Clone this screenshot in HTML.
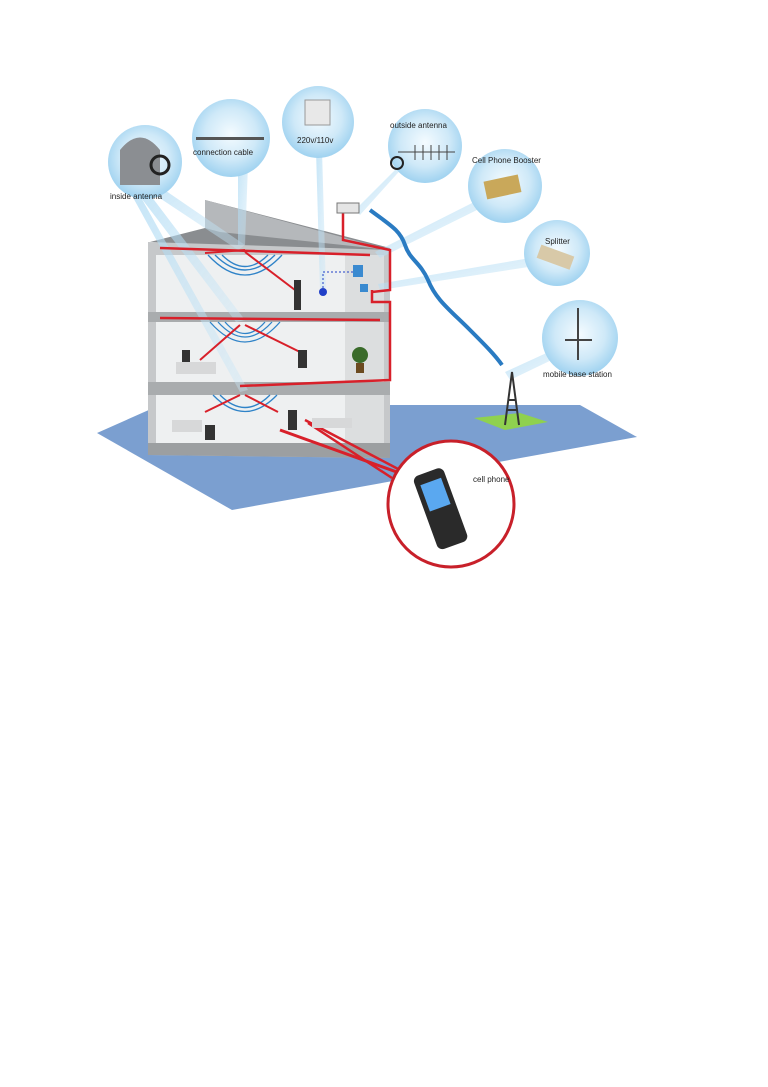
<!DOCTYPE html>
<html><head><meta charset="utf-8"><style>
body{margin:0;background:#fff;}
svg{display:block;font-family:"Liberation Sans",sans-serif;}
</style></head><body>
<svg width="768" height="1087" viewBox="0 0 768 1087" xmlns="http://www.w3.org/2000/svg">
<defs>
<radialGradient id="bub" cx="50%" cy="45%" r="55%">
<stop offset="0" stop-color="#f4fbff"/><stop offset="0.6" stop-color="#cfe9f8"/><stop offset="1" stop-color="#9fd2f0"/>
</radialGradient>
<linearGradient id="beam" x1="0" y1="0" x2="1" y2="1"><stop offset="0" stop-color="#a9d8f3" stop-opacity=".9"/><stop offset="1" stop-color="#cbe7f7" stop-opacity=".5"/></linearGradient>
</defs>
<rect width="768" height="1087" fill="#fff"/>
<!-- ground -->
<polygon points="97,433 232,510 637,437 580,405 160,405" fill="#7b9fd0"/>
<polygon points="474,418 520,413 548,422 505,430" fill="#8fd14f"/>
<!-- roof -->
<polygon points="205,200 390,248 390,256 150,242 205,228" fill="#8a8d90"/>
<polygon points="205,200 390,250 220,232 205,228" fill="#b5b8bb"/>
<!-- building -->
<polygon points="148,242 390,250 390,458 148,455" fill="#c6c8ca"/>
<rect x="156" y="255" width="228" height="57" fill="#eef0f1"/>
<rect x="156" y="322" width="228" height="60" fill="#eef0f1"/>
<rect x="156" y="395" width="228" height="48" fill="#eef0f1"/>
<rect x="345" y="255" width="39" height="188" fill="#dcdedf"/>
<polygon points="148,312 390,312 390,322 148,322" fill="#a9acae"/>
<polygon points="148,382 390,382 390,395 148,395" fill="#a9acae"/>
<polygon points="148,443 390,443 390,458 148,455" fill="#9c9fa1"/>
<!-- beams -->
<g fill="url(#beam)" opacity=".75">
<polygon points="140,185 150,180 245,245 238,250"/>
<polygon points="135,190 145,188 245,320 236,322"/>
<polygon points="130,192 138,192 248,390 240,392"/>
<polygon points="238,165 248,165 245,245 238,245"/>
<polygon points="316,150 322,150 326,290 320,290"/>
<polygon points="395,170 405,165 360,215 355,210"/>
<polygon points="478,200 485,206 380,258 375,252"/>
<polygon points="530,258 535,266 380,290 378,284"/>
<polygon points="553,350 560,356 510,380 505,372"/>
</g>
<!-- red cable -->
<g fill="none" stroke="#d8202a" stroke-width="2.5">
<path d="M343,212 L343,240 L390,250 L390,290 L372,292"/>
<path d="M372,290 L372,302 L390,302 L390,380 L240,386"/>
<path d="M160,248 L370,255"/>
<path d="M160,318 L380,320"/>
<path d="M305,420 L400,470"/>
<path d="M308,423 L392,478"/>
</g>
<path d="M280,430 L405,475" stroke="#d8202a" stroke-width="3" fill="none"/>
<!-- blue wave -->
<path d="M370,210 C390,225 400,230 405,245 C410,260 420,262 428,280 C436,300 450,310 470,330 C485,345 495,355 502,365" fill="none" stroke="#2a7bc2" stroke-width="4"/>
<circle cx="323" cy="292" r="4" fill="#2040c8"/>
<path d="M323,288 L323,272 L358,272" stroke="#2040c8" stroke-dasharray="2,2" fill="none"/>
<rect x="353" y="265" width="10" height="12" fill="#3a8ad0"/>
<rect x="360" y="284" width="8" height="8" fill="#3a8ad0"/>
<rect x="337" y="203" width="22" height="10" fill="#e5e5e5" stroke="#777"/>
<!-- waves -->
<g fill="none" stroke="#2f83c8" stroke-width="1.3">
<path d="M215,255 Q245,285 275,255"/><path d="M208,255 Q245,295 282,255"/><path d="M222,255 Q245,278 268,255"/>
<path d="M218,322 Q245,352 272,322"/><path d="M210,322 Q245,362 280,322"/><path d="M225,322 Q245,345 265,322"/>
<path d="M220,395 Q245,420 270,395"/><path d="M213,395 Q245,428 277,395"/>
</g>
<g stroke="#d8202a" stroke-width="2" fill="none">
<path d="M245,250 L205,253"/><path d="M245,252 L295,290"/>
<path d="M240,325 L200,360"/><path d="M245,325 L300,352"/>
<path d="M240,395 L205,412"/><path d="M245,395 L278,412"/>
</g>
<!-- people/furniture -->
<g fill="#333">
<rect x="294" y="280" width="7" height="30"/>
<rect x="182" y="350" width="8" height="14"/>
<rect x="298" y="350" width="9" height="18"/>
<rect x="288" y="410" width="9" height="20"/>
<rect x="205" y="425" width="10" height="15"/>
</g>
<rect x="176" y="362" width="40" height="12" fill="#d7d8d9"/>
<rect x="172" y="420" width="30" height="12" fill="#d7d8d9"/>
<rect x="312" y="418" width="40" height="10" fill="#d7d8d9"/>
<circle cx="360" cy="355" r="8" fill="#3a6b2a"/><rect x="356" y="363" width="8" height="10" fill="#6b4a20"/>
<!-- tower -->
<path d="M505,425 L512,372 L519,425 M508,400 L516,400 M507,410 L517,410" stroke="#333" stroke-width="2" fill="none"/>
<!-- bubbles -->
<g fill="url(#bub)">
<circle cx="145" cy="162" r="37"/>
<circle cx="231" cy="138" r="39"/>
<circle cx="318" cy="122" r="36"/>
<circle cx="425" cy="146" r="37"/>
<circle cx="505" cy="186" r="37"/>
<circle cx="557" cy="253" r="33"/>
<circle cx="580" cy="338" r="38"/>
</g>
<path d="M120,185 L120,150 Q140,125 160,150 L160,185 Z" fill="#8b8e92"/>
<circle cx="160" cy="165" r="9" fill="none" stroke="#222" stroke-width="3"/>
<rect x="196" y="137" width="68" height="3" fill="#555"/>
<rect x="305" y="100" width="25" height="25" fill="#e8e8e8" stroke="#999"/>
<path d="M398,152 L455,152 M415,145 L415,160 M423,145 L423,160 M431,145 L431,160 M439,145 L439,160 M447,145 L447,160" stroke="#444" fill="none"/>
<circle cx="397" cy="163" r="6" fill="none" stroke="#222" stroke-width="2"/>
<rect x="485" y="178" width="35" height="18" fill="#c9a85a" transform="rotate(-12 502 187)"/>
<rect x="538" y="250" width="35" height="14" fill="#d8c9a8" transform="rotate(20 555 257)"/>
<path d="M578,308 L578,360 M565,340 L592,340" stroke="#444" stroke-width="2"/>
<g font-size="8" fill="#222">
<text x="110" y="199">inside antenna</text>
<text x="193" y="155">connection cable</text>
<text x="297" y="143">220v/110v</text>
<text x="390" y="128">outside antenna</text>
<text x="472" y="163">Cell Phone Booster</text>
<text x="545" y="244">Splitter</text>
<text x="543" y="377">mobile base station</text>
</g>
<!-- phone circle -->
<circle cx="451" cy="504" r="63" fill="#fff" stroke="#c8202a" stroke-width="3"/>
<g transform="rotate(-20 440 510)"><rect x="425" y="470" width="32" height="78" rx="6" fill="#2a2a2a"/><rect x="430" y="480" width="22" height="28" fill="#5aa8f0"/></g>
<text x="473" y="482" font-size="8" fill="#222">cell phone</text>
</svg>
</body></html>
